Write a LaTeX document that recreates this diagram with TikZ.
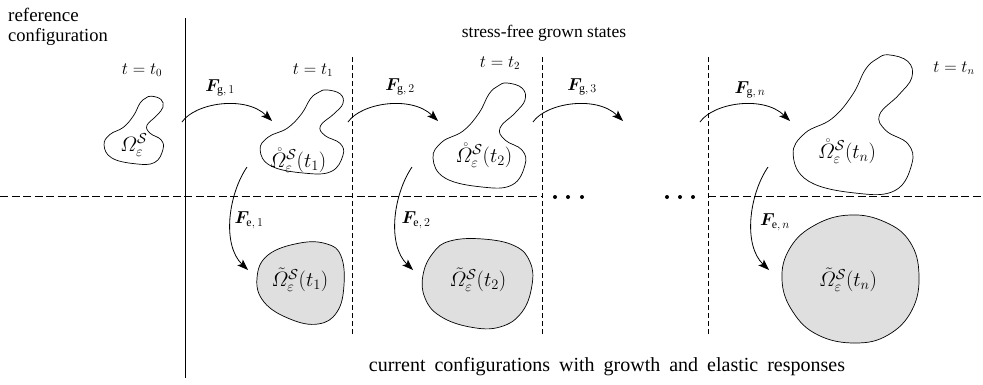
\documentclass[tikz,border=0pt]{standalone}
\usepackage{amsmath,amssymb,bm}
\usepackage{fontspec}
\setmainfont{Liberation Serif}
\usetikzlibrary{arrows.meta}
\begin{document}
\begin{tikzpicture}[x=1pt,y=-1pt,
  every node/.style={inner sep=0pt,font=\fontsize{17.5}{21}\selectfont},
  tlab/.style={font=\fontsize{16}{19}\selectfont},
  blab/.style={font=\fontsize{20}{24}\selectfont},
  flab/.style={font=\fontsize{17}{20}\selectfont},
  arr/.style={line width=0.8pt,-{Stealth[length=11pt,width=8pt,inset=2.5pt]}},
  hdsh/.style={line width=0.7pt,dash pattern=on 8pt off 3.5pt},
  vdsh/.style={line width=0.7pt,dash pattern=on 5pt off 3pt},
  blob/.style={line width=0.7pt},
  fblob/.style={line width=0.7pt,fill=gray!25}]
\useasboundingbox (0,0) rectangle (983,384);

% frame lines
\coordinate (vtop) at (185,18);
\coordinate (vbot) at (185,378);
\draw[line width=0.8pt] (vtop) -- (vbot);
\coordinate (hl0) at (0,196);
\coordinate (hl1) at (542,196);
\coordinate (hr0) at (708,196);
\coordinate (hr1) at (983,196);
\draw[hdsh] (hl0) -- (hl1);
\draw[hdsh] (hr0) -- (hr1);
\foreach \x/\n in {352/a,542/b,708/c}{
  \coordinate (d\n t) at (\x,57);
  \coordinate (d\n b) at (\x,335);
  \draw[vdsh] (d\n t) -- (d\n b);
}
\foreach \x in {555,568,582,667,680,693}{
  \fill (\x,197) circle (2pt);
}

% texts
\node[anchor=west,font=\fontsize{19}{22}\selectfont] (ref1) at (8,15) {reference};
\node[anchor=west,font=\fontsize{18.5}{22}\selectfont] (ref2) at (8,37) {configuration};
\node (sf) at (544,33) {stress-free grown states};
\node[font=\fontsize{20}{24}\selectfont] (cc) at (607,367) {\spaceskip=9pt plus 1pt minus 1pt\relax current configurations with growth and elastic responses};
\node[tlab] (t0) at (142,70) {$t=t_0$};
\node[tlab] (t1) at (313,70) {$t=t_1$};
\node[tlab] (t2) at (500,63) {$t=t_2$};
\node[tlab] (tn) at (954,68) {$t=t_n$};

% stress-free blobs
\foreach \cx/\cy/\sx/\sy in {133.5/130/0.64/0.65, 301.5/131.5/0.9/0.8, 479/135/1/1, 852.5/124/1.29/1.33}{
\begin{scope}[shift={(\cx,\cy)},xscale=\sx,yscale=\sy]
\draw[blob] plot[smooth cycle,tension=0.7] coordinates {
 (28,-52) (43,-47) (46,-35) (36,-22) (21,-7) (26,5) (43,15) (46,30)
 (33,50) (3,52) (-34,43) (-46,23) (-37,7) (-16,-4) (0,-22) (10,-41) (19,-49)};
\end{scope}
}
\node[blab] (b0) at (134,145) {$\varOmega^{\mathcal{S}}_{\varepsilon}$};
\node[blab] (b1) at (298,160) {$\mathring{\varOmega}^{\mathcal{S}}_{\varepsilon}(t_1)$};
\node[blab] (b2) at (484,155) {$\mathring{\varOmega}^{\mathcal{S}}_{\varepsilon}(t_2)$};
\node[blab] (bn) at (847,151) {$\mathring{\varOmega}^{\mathcal{S}}_{\varepsilon}(t_n)$};

% filled blobs
\draw[fblob] plot[smooth cycle,tension=0.7] coordinates {
 (300,243) (327,244) (341,256) (344,285) (337,312) (318,324) (290,319)
 (264,302) (257,278) (268,255)};
\draw[fblob] plot[smooth cycle,tension=0.7] coordinates {
 (450,241) (483,239) (515,246) (530,262) (532,285) (522,312) (500,327)
 (470,327) (440,316) (425,298) (423,275) (433,253)};
\draw[fblob] plot[smooth cycle,tension=0.7] coordinates {
 (850,215) (885,222) (910,242) (919,275) (912,310) (888,335) (855,343)
 (818,335) (793,312) (782,280) (790,248) (815,225)};
\node[blab] (c1) at (300,280) {$\tilde{\varOmega}^{\mathcal{S}}_{\varepsilon}(t_1)$};
\node[blab] (c2) at (478,280) {$\tilde{\varOmega}^{\mathcal{S}}_{\varepsilon}(t_2)$};
\node[blab] (cn) at (848,280) {$\tilde{\varOmega}^{\mathcal{S}}_{\varepsilon}(t_n)$};

% growth arrows
\foreach \sx/\n in {0/1,166/2,351/3,518/n}{
  \coordinate (gs\n) at (182+\sx,122);
  \coordinate (ge\n) at (272+\sx,121);
  \draw[arr] (gs\n) .. controls (195+\sx,103) and (245+\sx,95) .. (ge\n);
}
\node[flab] (fg1) at (220,88) {$\bm{F}_{\mathrm{g},\,1}$};
\node[flab] (fg2) at (400,87) {$\bm{F}_{\mathrm{g},\,2}$};
\node[flab] (fg3) at (582,87) {$\bm{F}_{\mathrm{g},\,3}$};
\node[flab] (fgn) at (750,90) {$\bm{F}_{\mathrm{g},\,n}$};

% elastic arrows
\foreach \sx/\n in {0/1,165/2,521/n}{
  \coordinate (es\n) at (247+\sx,167);
  \coordinate (ee\n) at (248+\sx,270);
  \draw[arr] (es\n) .. controls (228+\sx,195) and (222+\sx,245) .. (ee\n);
}
\node[flab] (fe1) at (249,220) {$\bm{F}_{\mathrm{e},\,1}$};
\node[flab] (fe2) at (416,220) {$\bm{F}_{\mathrm{e},\,2}$};
\node[flab] (fen) at (775,222) {$\bm{F}_{\mathrm{e},\,n}$};
\end{tikzpicture}
\end{document}
